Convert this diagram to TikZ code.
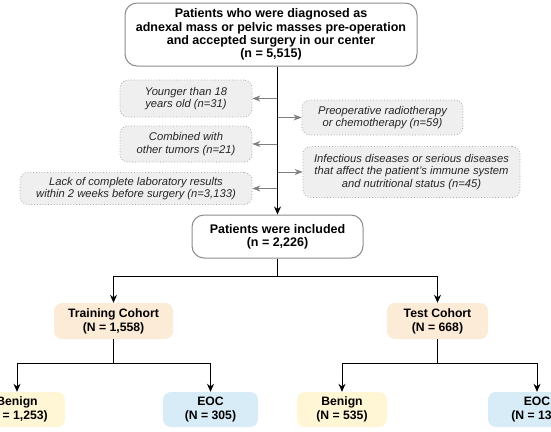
\documentclass[tikz,border=0pt]{standalone}
\usepackage{fontspec}
\setmainfont{Liberation Sans}
\usetikzlibrary{arrows.meta}
\definecolor{exfill}{HTML}{EFEFEF}
\definecolor{exdraw}{HTML}{A8A8A8}
\definecolor{arrgray}{HTML}{7F7F7F}
\definecolor{peach}{HTML}{FCEBD6}
\definecolor{lyellow}{HTML}{FFF6D6}
\definecolor{lblue}{HTML}{D8ECF7}
\definecolor{extext}{HTML}{262626}
\tikzset{
  mainbox/.style={draw=black!45, line width=1pt, fill=white, rounded corners=12pt, align=center,
    font=\fontsize{12.5}{13.2}\selectfont\bfseries, inner sep=0pt},
  exbox/.style={draw=exdraw, dotted, line width=0.8pt, fill=exfill, rounded corners=8pt, align=center,
    font=\fontsize{11.2}{12.5}\selectfont\itshape, text=extext, inner sep=0pt},
  colbox/.style={rounded corners=8pt, align=center, inner sep=0pt, minimum height=35pt,
    font=\fontsize{12.2}{14}\selectfont\bfseries},
  grayarrow/.style={draw=arrgray, line width=0.9pt, -{Stealth[length=8pt,width=6pt]}},
  blackarrow/.style={draw=black, line width=0.9pt, -{Stealth[length=8pt,width=7pt]}},
  blackline/.style={draw=black, line width=0.9pt}
}
\begin{document}
\begin{tikzpicture}[x=1pt,y=-1pt]
\useasboundingbox (0,0) rectangle (551,431);
\clip (0,0) rectangle (551,431);
\fill[white] (0,0) rectangle (551,431);

\node[mainbox, minimum width=292pt, minimum height=63pt] (top) at (271,34.5)
  {Patients who were diagnosed as\\adnexal mass or pelvic masses pre-operation\\and accepted surgery in our center\\(n = 5,515)};

\node[exbox, minimum width=132pt, minimum height=37pt] (ex1) at (186,98.5)
  {Younger than 18\\years old (n=31)};
\node[exbox, minimum width=132pt, minimum height=36pt] (ex2) at (186,144)
  {Combined with\\other tumors (n=21)};
\node[exbox, minimum width=232pt, minimum height=32pt] (ex3) at (136,188.5)
  {Lack of complete laboratory results\\within 2 weeks before surgery (n=3,133)};
\node[exbox, minimum width=161pt, minimum height=35pt] (ex4) at (382.5,117.5)
  {Preoperative radiotherapy\\or chemotherapy (n=59)};
\node[exbox, minimum width=217pt, minimum height=51pt] (ex5) at (411.5,172)
  {Infectious diseases or serious diseases\\that affect the patient's immune system\\and nutritional status (n=45)};

\node[mainbox, minimum width=171pt, minimum height=43pt] (inc) at (277.5,236.5)
  {Patients were included\\(n = 2,226)};

\node[colbox, fill=peach, minimum width=119pt, minimum height=36pt] (train) at (113.5,321)
  {Training Cohort\\(N = 1,558)};
\node[colbox, fill=peach, minimum width=101pt, minimum height=36pt] (test) at (437.5,321)
  {Test Cohort\\(N = 668)};

\node[colbox, fill=lyellow, minimum width=96pt] (ben1) at (17,409.5) {Benign\\(N = 1,253)};
\node[colbox, fill=lblue, minimum width=95pt] (eoc1) at (210.5,409.5) {EOC\\(N = 305)};
\node[colbox, fill=lyellow, minimum width=90pt] (ben2) at (342,409.5) {Benign\\(N = 535)};
\node[colbox, fill=lblue, minimum width=98pt] (eoc2) at (537,409.5) {EOC\\(N = 133)};

% exclusion arrows
\draw[grayarrow] (ex1.east -| inc.north) -- (ex1.east);
\draw[grayarrow] (ex2.east -| inc.north) -- (ex2.east);
\draw[grayarrow] (ex3.east -| inc.north) -- (ex3.east);
\draw[grayarrow] (ex4.west -| inc.north) -- (ex4.west);
\draw[grayarrow] (ex5.west -| inc.north) -- (ex5.west);
% main flow
\draw[blackarrow] (top.south -| inc.north) -- (inc.north);

\coordinate (s1) at (277.5,276);
\coordinate (s2) at (113.5,363);
\coordinate (s3) at (437.5,363);
\draw[blackline] (inc.south) -- (s1);
\draw[blackarrow] (s1) -| (train.north);
\draw[blackarrow] (s1) -| (test.north);
\draw[blackline] (train.south) -- (s2);
\draw[blackarrow] (s2) -| (ben1.north);
\draw[blackarrow] (s2) -| (eoc1.north);
\draw[blackline] (test.south) -- (s3);
\draw[blackarrow] (s3) -| (ben2.north);
\draw[blackarrow] (s3) -| (eoc2.north);
\end{tikzpicture}
\end{document}
